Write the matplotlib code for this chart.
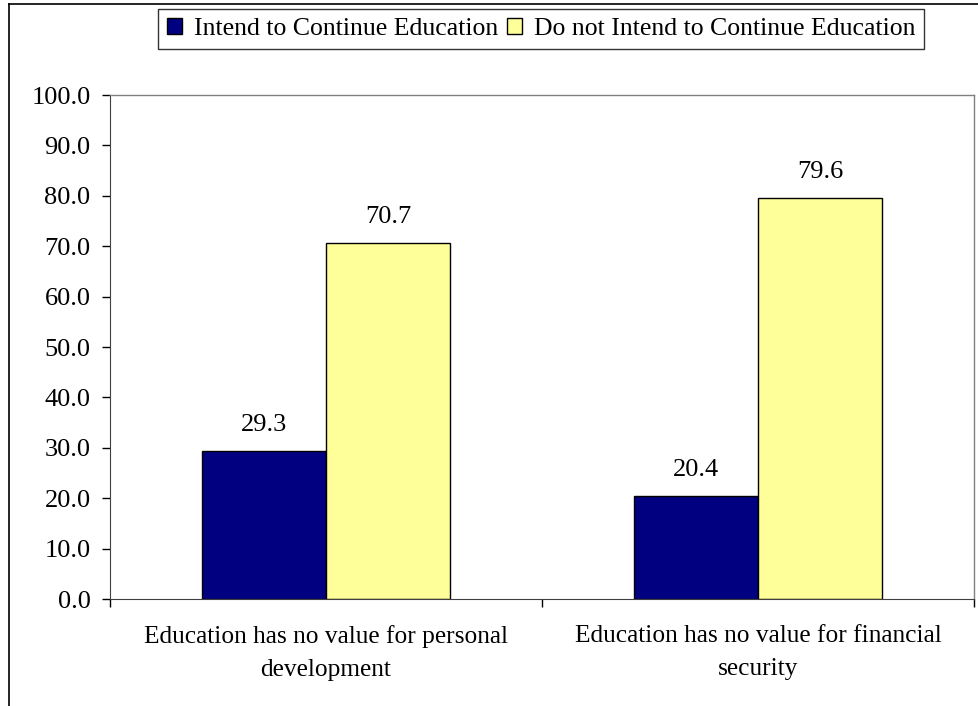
import matplotlib
matplotlib.use("Agg")
import matplotlib.pyplot as plt
from matplotlib.patches import Rectangle
from matplotlib.lines import Line2D

categories = ["Education has no value for personal\ndevelopment",
              "Education has no value for financial\nsecurity"]
series_names = ["Intend to Continue Education", "Do not Intend to Continue Education"]
intend = [29.3, 20.4]
not_intend = [70.7, 79.6]
yticks = [0, 10, 20, 30, 40, 50, 60, 70, 80, 90, 100]
colors = ["#000080", "#FFFF99"]

plt.rcParams['font.family'] = ['Liberation Serif', 'DejaVu Serif']

fig = plt.figure(figsize=(9.79, 7.06), dpi=100)
W, H = 979, 706
ax = fig.add_axes([110 / W, 1 - 599 / H, (974 - 110) / W, (599 - 95) / H])

bw = 0.287
x = [0, 1]
b1 = ax.bar([i - bw / 2 for i in x], intend, width=bw, color=colors[0],
            edgecolor="black", linewidth=1.0, label=series_names[0])
b2 = ax.bar([i + bw / 2 for i in x], not_intend, width=bw, color=colors[1],
            edgecolor="black", linewidth=1.0, label=series_names[1])

for bars, vals in ((b1, intend), (b2, not_intend)):
    for r, v in zip(bars, vals):
        ax.text(r.get_x() + r.get_width() / 2, v + 3.0, f"{v:.1f}",
                ha="center", va="bottom", fontsize=19)

ax.set_xlim(-0.5, 1.5)
ax.set_ylim(0, 100)
ax.set_yticks(yticks)
ax.set_yticklabels([f"{v:.1f}" for v in yticks], fontsize=19)
ax.tick_params(axis="y", direction="out", length=6, width=1, pad=8)

ax.set_xticks([-0.5, 0.5, 1.5], minor=False)
ax.set_xticklabels([])
ax.set_xticks([0, 1], minor=True)
ax.set_xticklabels(categories, minor=True, fontsize=18.3, linespacing=1.6)
ax.tick_params(axis="x", which="major", direction="out", length=6, width=1)
ax.tick_params(axis="x", which="minor", length=0, pad=19)

for s in ("top", "right"):
    ax.spines[s].set_color("#808080")
    ax.spines[s].set_linewidth(1.0)
ax.spines["left"].set_color("#404040")
ax.spines["bottom"].set_color("#404040")

# legend
handles = [Rectangle((0, 0), 1, 1, facecolor=c, edgecolor="black", linewidth=1.0) for c in colors]
leg = fig.legend(handles, series_names, loc="center",
                 bbox_to_anchor=((161 + 921) / 2 / W, 1 - 29 / H),
                 ncol=2, fontsize=18.5, frameon=True, fancybox=False,
                 handlelength=0.6, handleheight=0.6, handletextpad=0.45,
                 columnspacing=0.35, borderpad=0.35, borderaxespad=0)
leg.get_frame().set_edgecolor("black")
leg.get_frame().set_linewidth(1.0)

# outer frame (left and top edges)
fig.add_artist(Line2D([9 / W, 9 / W], [0, 1 - 4 / H], color="black", linewidth=1.2, transform=fig.transFigure))
fig.add_artist(Line2D([9 / W, 1], [1 - 4 / H, 1 - 4 / H], color="black", linewidth=1.2, transform=fig.transFigure))

fig.savefig("out.png", dpi=100)
